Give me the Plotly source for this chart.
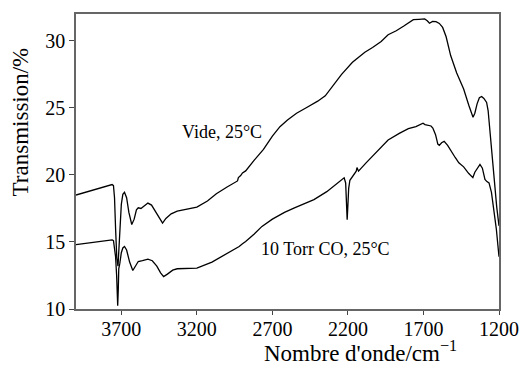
import plotly.graph_objects as go

# Wavenumbers (cm-1) and transmission (%)
vide_x = [4000, 3900, 3800, 3761, 3752, 3745, 3738, 3730, 3722, 3712, 3700, 3690, 3679, 3665, 3650,
          3631, 3615, 3600, 3588, 3570, 3545, 3524, 3500, 3475, 3450, 3427, 3405, 3370, 3330, 3270,
          3200, 3130, 3071, 3000, 2940, 2931, 2925, 2910, 2898, 2877, 2820, 2759, 2700, 2650, 2600,
          2540, 2470, 2400, 2350, 2300, 2242, 2170, 2088, 2037, 1980, 1934, 1880, 1830, 1790, 1767,
          1730, 1692, 1675, 1660, 1640, 1617, 1595, 1573, 1550, 1520, 1480, 1434, 1400, 1379, 1372,
          1360, 1345, 1330, 1315, 1300, 1282, 1272, 1255, 1240, 1229, 1215, 1200]
vide_y = [18.5, 18.85, 19.15, 19.28, 19.2, 18.3, 16.0, 13.8, 13.2, 15.5, 17.8, 18.55, 18.7, 18.3, 17.2,
          16.3, 16.7, 17.4, 17.55, 17.5, 17.75, 17.9, 17.75, 17.3, 16.75, 16.41, 16.75, 17.1, 17.3, 17.45,
          17.6, 18.05, 18.6, 19.1, 19.5, 19.55, 19.8, 19.95, 20.15, 20.3, 21.1, 21.9, 22.9, 23.6, 24.1,
          24.6, 25.05, 25.5, 25.9, 26.6, 27.5, 28.4, 29.15, 29.5, 29.95, 30.45, 30.75, 31.1, 31.45, 31.58,
          31.6, 31.63, 31.5, 31.31, 31.45, 31.43, 31.3, 31.0, 30.3, 28.9, 27.6, 26.4, 25.2, 24.4, 24.3,
          24.6, 25.3, 25.75, 25.85, 25.7, 25.4, 24.8, 22.5, 20.5, 19.0, 17.6, 16.2]

co_x = [4000, 3900, 3800, 3761, 3752, 3745, 3738, 3731, 3724, 3720, 3717, 3710, 3700, 3690, 3679,
        3665, 3645, 3624, 3605, 3588, 3560, 3524, 3495, 3465, 3440, 3420, 3395, 3360, 3330, 3270,
        3200, 3100, 3028, 2960, 2942, 2935, 2920, 2900, 2877, 2820, 2769, 2700, 2620, 2554, 2490,
        2425, 2340, 2252, 2225, 2215, 2210, 2205, 2200, 2195, 2187, 2165, 2145, 2140, 2135, 2130,
        2080, 2015, 1934, 1860, 1800, 1750, 1720, 1703, 1690, 1670, 1650, 1638, 1620, 1605, 1595,
        1580, 1563, 1540, 1515, 1490, 1466, 1434, 1400, 1379, 1373, 1360, 1345, 1326, 1310, 1293,
        1280, 1266, 1250, 1235, 1218, 1200]
co_y = [14.8, 14.95, 15.1, 15.16, 15.1, 14.4, 13.9, 12.5, 10.25, 11.5, 13.0, 13.4, 14.2, 14.55, 14.66,
        14.4, 13.5, 12.87, 13.2, 13.54, 13.6, 13.72, 13.6, 13.2, 12.7, 12.42, 12.6, 12.9, 13.0, 13.02,
        13.05, 13.5, 13.97, 14.35, 14.47, 14.55, 14.66, 14.85, 15.04, 15.6, 16.16, 16.7, 17.2, 17.54, 17.85,
        18.16, 18.75, 19.5, 19.78, 19.4, 17.5, 16.66, 17.8, 19.0, 19.6, 19.95, 20.28, 20.55, 20.3, 20.28,
        20.9, 21.65, 22.6, 23.1, 23.45, 23.6, 23.75, 23.85, 23.75, 23.7, 23.65, 23.5, 23.0, 22.3, 22.2,
        22.4, 22.5, 22.2, 21.7, 21.3, 20.9, 20.6, 20.1, 19.86, 19.8, 20.2, 20.5, 20.78, 20.5, 19.66,
        19.5, 19.4, 18.7, 17.5, 16.0, 13.9]

x_ticks = [3700, 3200, 2700, 2200, 1700, 1200]
y_ticks = [10, 15, 20, 25, 30]
label_vide = "Vide, 25°C"
label_co = "10 Torr CO, 25°C"

FONT = "Liberation Serif, Times New Roman, serif"

fig = go.Figure()
fig.add_trace(go.Scatter(x=vide_x, y=vide_y, mode="lines", line=dict(color="black", width=1.3),
                         showlegend=False, hoverinfo="skip"))
fig.add_trace(go.Scatter(x=co_x, y=co_y, mode="lines", line=dict(color="black", width=1.3),
                         showlegend=False, hoverinfo="skip"))

fig.add_annotation(x=3033, y=23.2, xref="x", yref="y", text=label_vide, showarrow=False,
                   font=dict(family=FONT, size=18, color="black"), xanchor="center", yanchor="middle")
fig.add_annotation(x=2350, y=14.5, xref="x", yref="y", text=label_co, showarrow=False,
                   font=dict(family=FONT, size=18, color="black"), xanchor="center", yanchor="middle")

# Axis titles (placed like the reference, off-centre)
fig.add_annotation(x=0.672, y=-0.143, xref="paper", yref="paper",
                   text="Nombre d'onde/cm<sup>−1</sup>", showarrow=False,
                   font=dict(family=FONT, size=23, color="black"), xanchor="center", yanchor="middle")
fig.add_annotation(x=-0.129, y=0.634, xref="paper", yref="paper", text="Transmission/%",
                   showarrow=False, textangle=-90,
                   font=dict(family=FONT, size=23, color="black"), xanchor="center", yanchor="middle")

fig.update_layout(
    width=531, height=365,
    margin=dict(l=76, r=22, t=14, b=56),
    paper_bgcolor="white", plot_bgcolor="white",
    font=dict(family=FONT, size=20, color="black"),
)
fig.update_xaxes(range=[4000, 1200], tickvals=x_ticks, ticktext=[str(v) for v in x_ticks],
                 showgrid=False, zeroline=False, showline=True, linecolor="#666", linewidth=1.5,
                 mirror=True, ticks="outside", ticklen=4, tickcolor="#444", tickwidth=1,
                 ticklabelstandoff=-3,
                 tickfont=dict(family=FONT, size=20, color="black"))
fig.update_yaxes(range=[10, 32], tickvals=y_ticks, ticktext=[str(v) for v in y_ticks],
                 showgrid=False, zeroline=False, showline=True, linecolor="#666", linewidth=1.5,
                 mirror=True, ticks="outside", ticklen=5, tickcolor="#444", tickwidth=1,
                 tickfont=dict(family=FONT, size=20, color="black"))

fig.write_html("out.html", config={"displayModeBar": False},
               post_script="document.body.style.margin='0';document.body.style.overflow='hidden';")
